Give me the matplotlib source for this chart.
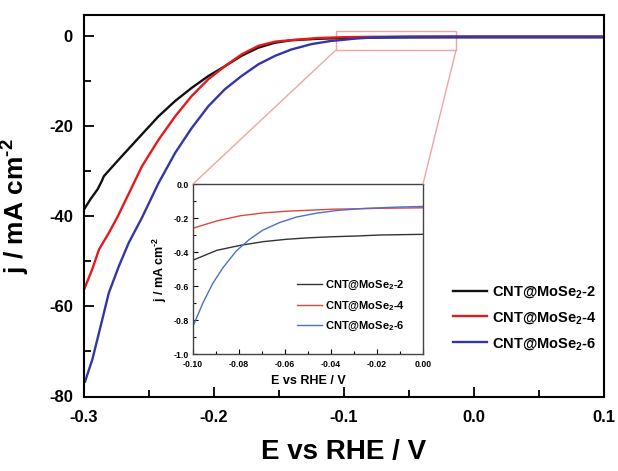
import numpy as np
import matplotlib
matplotlib.use("Agg")
import matplotlib.pyplot as plt
from matplotlib.patches import Rectangle, ConnectionPatch
from matplotlib.ticker import MultipleLocator, FormatStrFormatter, FuncFormatter

plt.rcParams['font.family'] = ['Liberation Sans', 'DejaVu Sans']
plt.rcParams['font.weight'] = 'bold'
plt.rcParams['mathtext.fontset'] = 'custom'
plt.rcParams['mathtext.rm'] = 'Liberation Sans:bold'
plt.rcParams['mathtext.it'] = 'Liberation Sans:bold'
plt.rcParams['mathtext.bf'] = 'Liberation Sans:bold'
plt.rcParams['axes.unicode_minus'] = False

labels = ["CNT@MoSe$_2$-2", "CNT@MoSe$_2$-4", "CNT@MoSe$_2$-6"]
main_colors = ["#111111", "#e31a1c", "#3535a8"]
inset_colors = ["#333333", "#e0463c", "#4a70d0"]

# main panel, E < -0.1 V
e_black = [-0.300, -0.295, -0.2895, -0.2865, -0.2847, -0.2732, -0.2554, -0.2426, -0.2298,
           -0.2171, -0.2044, -0.1916, -0.1789, -0.166, -0.1533, -0.1406, -0.12]
j_black = [-38.5, -36.2, -34.0, -32.3, -31.1, -27.4, -21.8, -17.8, -14.4,
           -11.5, -8.9, -6.7, -4.4, -2.6, -1.5, -0.95, -0.62]
e_red = [-0.300, -0.2937, -0.2885, -0.2809, -0.2745, -0.2681, -0.2554, -0.2426,
         -0.2298, -0.2171, -0.2044, -0.1916, -0.1789, -0.166, -0.153, -0.14, -0.12]
j_red = [-56.3, -51.8, -47.4, -43.7, -40.3, -36.5, -28.9, -23.0,
         -17.8, -13.3, -9.6, -6.7, -4.1, -2.2, -1.25, -0.9, -0.45]
e_blue = [-0.2992, -0.2936, -0.2872, -0.2809, -0.2732, -0.2656, -0.2554, -0.2426,
          -0.2298, -0.2171, -0.2044, -0.1916, -0.1789, -0.166, -0.153, -0.1406,
          -0.125, -0.11]
j_blue = [-76.7, -71.8, -64.4, -57.0, -51.1, -45.9, -40.3, -32.6,
          -25.9, -20.4, -15.6, -11.8, -8.9, -6.3, -4.4, -3.0,
          -1.8, -1.1]

# inset panel, -0.1 .. 0 V
ie_black = [-0.1, -0.0896, -0.0795, -0.0694, -0.0592, -0.0491, -0.039, -0.0289, -0.0188, 0.0]
ij_black = [-0.448, -0.39, -0.361, -0.339, -0.325, -0.316, -0.31, -0.306, -0.30, -0.296]
ie_red = [-0.1, -0.0896, -0.0795, -0.0694, -0.0592, -0.0491, -0.039, -0.0289, -0.0188, 0.0]
ij_red = [-0.26, -0.217, -0.187, -0.17, -0.16, -0.154, -0.148, -0.146, -0.143, -0.14]
ie_blue = [-0.1, -0.0957, -0.0913, -0.087, -0.0812, -0.0754, -0.0697, -0.0624,
           -0.0552, -0.0465, -0.0376, -0.026, -0.0116, 0.0]
ij_blue = [-0.838, -0.70, -0.582, -0.493, -0.394, -0.325, -0.272, -0.227,
           -0.195, -0.172, -0.156, -0.144, -0.136, -0.132]

# flat tail beyond 0 V
tail_e = [0.05, 0.1]

main_series = [(e_black, j_black, ie_black, ij_black),
               (e_red, j_red, ie_red, ij_red),
               (e_blue, j_blue, ie_blue, ij_blue)]

fig = plt.figure(figsize=(6.18, 4.71), dpi=100)
ax = fig.add_axes([84/618, 1 - 396.5/471, 520/618, 381.5/471])

for (e, j, ie, ij), c, lab in zip(main_series, main_colors, labels):
    ee = list(e) + list(ie) + tail_e
    jj = list(j) + list(ij) + [ij[-1]] * len(tail_e)
    ax.plot(ee, jj, color=c, lw=1.7, label=lab, solid_joinstyle='round')

ax.set_xlim(-0.3, 0.1)
ax.set_ylim(-80, 4.66)
ax.xaxis.set_major_locator(MultipleLocator(0.1))
ax.xaxis.set_minor_locator(MultipleLocator(0.05))
ax.yaxis.set_major_locator(MultipleLocator(20))
ax.yaxis.set_minor_locator(MultipleLocator(10))
ax.xaxis.set_major_formatter(FuncFormatter(lambda v, p: f"{v:.1f}".replace("-0.0", "0.0") if abs(v) < 1e-9 else f"{v:.1f}"))
ax.yaxis.set_major_formatter(FormatStrFormatter('%d'))
ax.tick_params(which='both', direction='in', top=False, right=False, width=1.3)
ax.tick_params(which='major', length=7, labelsize=12)
ax.tick_params(axis='x', which='major', pad=10)
ax.tick_params(axis='y', which='major', pad=8)
ax.tick_params(which='minor', length=5)
for s in ax.spines.values():
    s.set_linewidth(1.5)
ax.set_xlabel("E vs RHE / V", fontsize=20, fontweight='bold', labelpad=10)
ax.set_ylabel(r"j / mA cm$^{\text{-}2}$", fontsize=19, fontweight='bold', labelpad=12)

ax.legend(loc='center left', bbox_to_anchor=((453-84)/520, (396.5-318)/381.5),
          frameon=False, fontsize=10.5, handlelength=2.3, handletextpad=0.4,
          labelspacing=0.68, borderpad=0, borderaxespad=0)

# zoom box
pink = "#f4a3a3"
rx0, rx1, ry0, ry1 = -0.1062, -0.0138, -3.1, 1.1
ax.add_patch(Rectangle((rx0, ry0), rx1 - rx0, ry1 - ry0, fill=False,
                       edgecolor=pink, lw=1.0, zorder=1))

ins = fig.add_axes([193/618, 1 - 354/471, 230/618, 170/471])
for ie, ij, c, lab in zip([ie_black, ie_red, ie_blue], [ij_black, ij_red, ij_blue],
                          inset_colors, labels):
    ins.plot(ie, ij, color=c, lw=1.0, label=lab)
ins.set_xlim(-0.1, 0.0)
ins.set_ylim(-1.0, 0.0)
ins.xaxis.set_major_locator(MultipleLocator(0.02))
ins.xaxis.set_minor_locator(MultipleLocator(0.01))
ins.yaxis.set_major_locator(MultipleLocator(0.2))
ins.yaxis.set_minor_locator(MultipleLocator(0.1))
ins.xaxis.set_major_formatter(FuncFormatter(lambda v, p: "0.00" if abs(v) < 1e-9 else f"{v:.2f}"))
ins.yaxis.set_major_formatter(FuncFormatter(lambda v, p: "0.0" if abs(v) < 1e-9 else f"{v:.1f}"))
ins.tick_params(which='both', direction='in', top=False, right=False, width=0.8)
ins.tick_params(which='major', length=3.5, labelsize=6.3)
ins.tick_params(which='minor', length=2)
ins.tick_params(axis='x', pad=4)
ins.tick_params(axis='y', pad=3)
for s in ins.spines.values():
    s.set_linewidth(1.0)
    s.set_color("#444444")
ins.set_xlabel("E vs RHE / V", fontsize=9, fontweight='bold', labelpad=5)
ins.set_ylabel(r"j / mA cm$^{\text{-}2}$", fontsize=9, fontweight='bold', labelpad=3)
ins.legend(loc='center left', bbox_to_anchor=((297-193)/230, (354-306)/170),
           frameon=False, fontsize=8, handlelength=2.25, handletextpad=0.3,
           labelspacing=0.65, borderpad=0, borderaxespad=0)

for xa, xb in [(rx0, 0), (rx1, 1)]:
    con = ConnectionPatch(xyA=(xa, ry0), coordsA=ax.transData,
                          xyB=(xb, 1), coordsB=ins.transAxes,
                          color=pink, lw=1.0)
    fig.add_artist(con)

fig.savefig("out.png", dpi=100)
